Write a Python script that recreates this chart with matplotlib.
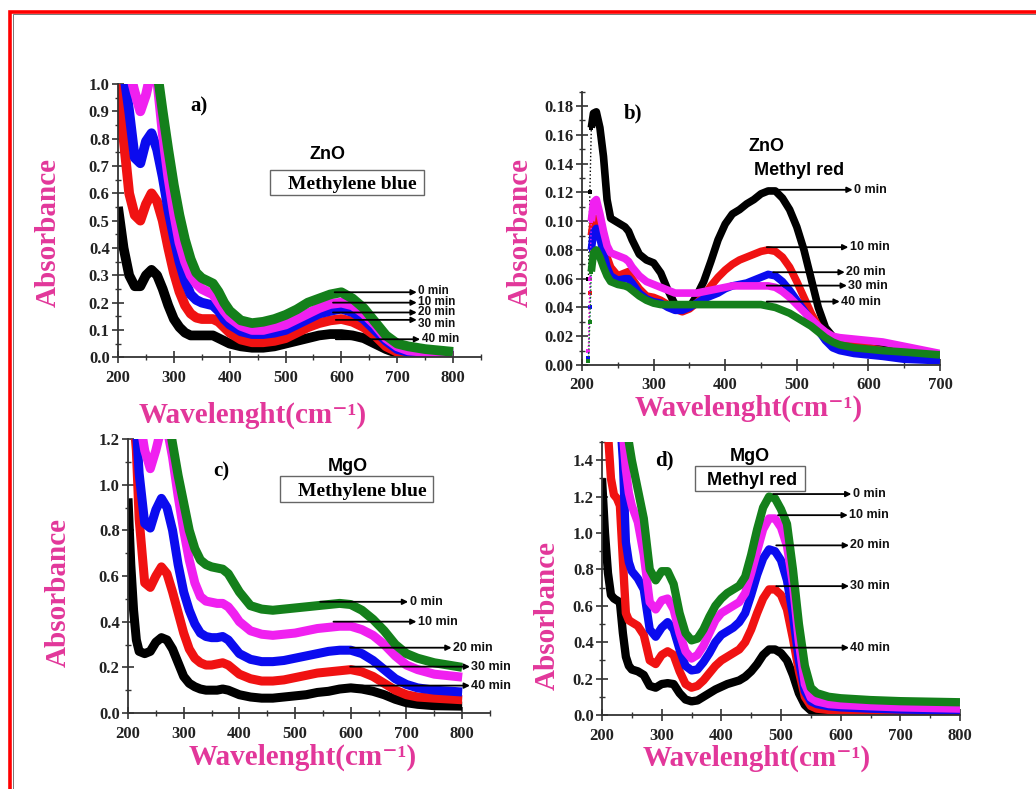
import numpy as np
import matplotlib
matplotlib.use('Agg')
import matplotlib.pyplot as plt
from matplotlib.patches import Rectangle
from matplotlib.ticker import MultipleLocator, FormatStrFormatter

plt.rcParams['font.family'] = ['Liberation Serif', 'DejaVu Serif']
plt.rcParams['font.weight'] = 'bold'

W, H = 1036, 789
PINK = '#e2379a'
SANS = ['Liberation Sans', 'DejaVu Sans']
C_BLACK, C_RED, C_BLUE, C_MAG, C_GREEN = '#000000', '#f01212', '#0b0bef', '#f020f0', '#14801b'

# ────────────────────────────────────────────────────────────────────────────────
# a) ZnO / methylene blue
a_wl = [200, 210, 220, 230, 240, 250, 260, 270, 280, 290, 300, 310, 320, 330, 340, 350, 360, 370, 380, 390, 400,
        420, 440, 460, 480, 500, 520, 540, 560, 580, 600, 620, 640, 660, 680, 700, 720, 750, 800]
a_40 = [0.55, 0.40, 0.30, 0.26, 0.26, 0.30, 0.32, 0.30, 0.25, 0.19, 0.14, 0.11, 0.09, 0.08, 0.08, 0.08, 0.08, 0.08, 0.07, 0.06, 0.05,
        0.04, 0.035, 0.035, 0.04, 0.05, 0.06, 0.07, 0.08, 0.085, 0.085, 0.08, 0.07, 0.05, 0.03, 0.015, 0.01, 0.005, 0.005]
a_30 = [1.0, 0.80, 0.60, 0.52, 0.50, 0.56, 0.60, 0.57, 0.50, 0.40, 0.31, 0.24, 0.19, 0.16, 0.145, 0.14, 0.14, 0.14, 0.13, 0.11, 0.09,
        0.065, 0.055, 0.055, 0.06, 0.07, 0.09, 0.11, 0.125, 0.135, 0.14, 0.13, 0.11, 0.08, 0.04, 0.02, 0.01, 0.008, 0.005]
a_20 = [1.3, 1.05, 0.90, 0.73, 0.71, 0.79, 0.82, 0.76, 0.66, 0.54, 0.44, 0.35, 0.28, 0.23, 0.21, 0.20, 0.195, 0.19, 0.17, 0.14, 0.12,
        0.095, 0.085, 0.085, 0.09, 0.10, 0.12, 0.14, 0.16, 0.17, 0.178, 0.165, 0.14, 0.10, 0.06, 0.03, 0.02, 0.015, 0.01]
a_10 = [1.4, 1.2, 1.05, 0.97, 0.90, 0.96, 1.05, 1.02, 0.82, 0.66, 0.53, 0.42, 0.35, 0.30, 0.27, 0.25, 0.24, 0.23, 0.20, 0.17, 0.145,
        0.115, 0.10, 0.10, 0.11, 0.12, 0.14, 0.16, 0.18, 0.195, 0.20, 0.19, 0.16, 0.12, 0.07, 0.04, 0.025, 0.02, 0.015]
a_0 = [1.6, 1.5, 1.4, 1.3, 1.25, 1.2, 1.15, 1.05, 0.90, 0.76, 0.63, 0.52, 0.43, 0.36, 0.31, 0.29, 0.28, 0.27, 0.24, 0.20, 0.17,
       0.135, 0.125, 0.13, 0.14, 0.155, 0.175, 0.20, 0.215, 0.23, 0.238, 0.215, 0.18, 0.13, 0.08, 0.05, 0.04, 0.03, 0.02]

# b) ZnO / methyl red (first points: steep onset)
b_wl = [209, 211, 213, 216, 220, 225, 230, 235, 240, 250, 260, 265, 270,
        280, 290, 300, 310, 320, 330, 340, 350, 360, 370, 380, 390, 400,
        410, 420, 430, 440, 450, 460, 470, 480, 490, 500, 510, 520, 530, 540, 550, 560, 580, 600, 620, 650, 700]
b_0 = [0.06, 0.12, 0.165, 0.175, 0.176, 0.165, 0.145, 0.115, 0.102, 0.099, 0.096, 0.093, 0.087,
       0.077, 0.073, 0.071, 0.064, 0.052, 0.042, 0.038, 0.040, 0.048, 0.058, 0.072, 0.087, 0.098,
       0.105, 0.108, 0.112, 0.115, 0.119, 0.121, 0.121, 0.116, 0.108, 0.096, 0.080, 0.060, 0.040, 0.026, 0.020, 0.017,
       0.014, 0.012, 0.011, 0.009, 0.007]
b_10 = [0.01, 0.05, 0.09, 0.10, 0.102, 0.095, 0.085, 0.075, 0.068, 0.062, 0.064, 0.065, 0.060,
        0.053, 0.048, 0.047, 0.045, 0.042, 0.039, 0.037, 0.039, 0.043, 0.048, 0.055, 0.061, 0.066,
        0.070, 0.073, 0.075, 0.077, 0.079, 0.080, 0.079, 0.075, 0.068, 0.058, 0.047, 0.036, 0.027, 0.022, 0.019, 0.017,
        0.014, 0.012, 0.010, 0.008, 0.006]
b_20 = [0.005, 0.04, 0.08, 0.092, 0.095, 0.088, 0.078, 0.068, 0.062, 0.059, 0.060, 0.060, 0.057,
        0.050, 0.046, 0.044, 0.043, 0.040, 0.038, 0.038, 0.040, 0.043, 0.046, 0.048, 0.050, 0.053,
        0.055, 0.056, 0.057, 0.059, 0.061, 0.063, 0.062, 0.058, 0.052, 0.045, 0.038, 0.031, 0.024, 0.017, 0.012, 0.010,
        0.008, 0.007, 0.006, 0.004, 0.003]
b_30 = [0.01, 0.06, 0.10, 0.113, 0.115, 0.105, 0.093, 0.083, 0.078, 0.076, 0.074, 0.072, 0.068,
        0.062, 0.058, 0.056, 0.054, 0.052, 0.050, 0.050, 0.050, 0.050, 0.051, 0.052, 0.053, 0.054,
        0.055, 0.055, 0.055, 0.055, 0.055, 0.055, 0.054, 0.051, 0.047, 0.042, 0.037, 0.032, 0.027, 0.023, 0.020, 0.019,
        0.018, 0.017, 0.016, 0.013, 0.008]
b_40 = [0.003, 0.03, 0.065, 0.078, 0.080, 0.075, 0.068, 0.062, 0.058, 0.056, 0.055, 0.054, 0.052,
        0.048, 0.045, 0.043, 0.042, 0.042, 0.042, 0.042, 0.042, 0.042, 0.042, 0.042, 0.042, 0.042,
        0.042, 0.042, 0.042, 0.042, 0.042, 0.041, 0.040, 0.038, 0.036, 0.033, 0.030, 0.027, 0.023, 0.019, 0.016, 0.014,
        0.012, 0.011, 0.010, 0.009, 0.007]

# c) MgO / methylene blue
c_wl = [200, 205, 210, 215, 220,
        230, 240, 250, 260, 270, 280, 290, 300, 310, 320, 330, 340, 350, 360, 370, 380, 390, 400,
        420, 440, 460, 480, 500, 520, 540, 560, 580, 600, 620, 640, 660, 680, 700, 720, 750, 800]
c_40 = [0.94, 0.65, 0.45, 0.32, 0.27,
        0.26, 0.27, 0.31, 0.33, 0.32, 0.28, 0.22, 0.16, 0.13, 0.115, 0.105, 0.10, 0.10, 0.10, 0.105, 0.10, 0.09, 0.08,
        0.07, 0.065, 0.065, 0.07, 0.075, 0.08, 0.09, 0.095, 0.105, 0.11, 0.105, 0.095, 0.08, 0.06, 0.045, 0.038, 0.032, 0.03]
c_30 = [1.6, 1.45, 1.3, 1.15, 0.85,
        0.57, 0.55, 0.60, 0.64, 0.61, 0.53, 0.44, 0.35, 0.28, 0.24, 0.22, 0.21, 0.21, 0.215, 0.22, 0.21, 0.19, 0.17,
        0.15, 0.14, 0.14, 0.145, 0.155, 0.165, 0.175, 0.18, 0.185, 0.19, 0.18, 0.16, 0.13, 0.10, 0.08, 0.07, 0.065, 0.058]
c_20 = [1.7, 1.55, 1.4, 1.25, 1.05,
        0.83, 0.81, 0.89, 0.94, 0.90, 0.80, 0.65, 0.53, 0.45, 0.39, 0.35, 0.335, 0.33, 0.33, 0.335, 0.32, 0.29, 0.26,
        0.235, 0.225, 0.225, 0.23, 0.24, 0.25, 0.26, 0.27, 0.275, 0.275, 0.26, 0.23, 0.19, 0.15, 0.125, 0.11, 0.10, 0.092]
c_10 = [1.8, 1.7, 1.6, 1.45, 1.30,
        1.15, 1.07, 1.15, 1.25, 1.25, 1.12, 0.95, 0.80, 0.67, 0.57, 0.51, 0.49, 0.485, 0.48, 0.48, 0.465, 0.435, 0.40,
        0.36, 0.345, 0.34, 0.345, 0.35, 0.36, 0.37, 0.375, 0.38, 0.38, 0.365, 0.34, 0.30, 0.25, 0.21, 0.19, 0.17, 0.157]
c_0 = [2.0, 1.9, 1.8, 1.7, 1.6,
       1.55, 1.5, 1.48, 1.45, 1.32, 1.18, 1.04, 0.92, 0.80, 0.72, 0.67, 0.65, 0.64, 0.635, 0.63, 0.61, 0.57, 0.53,
       0.47, 0.455, 0.45, 0.455, 0.46, 0.465, 0.47, 0.475, 0.48, 0.475, 0.45, 0.41, 0.36, 0.30, 0.26, 0.24, 0.22, 0.20]

# d) MgO / methyl red
d_wl = [200, 205, 210, 215, 220, 225, 230, 235, 240, 245, 250,
        260, 270, 280, 290, 300, 310, 320, 330, 340, 350, 360, 370, 380, 390, 400, 410, 420, 430, 440, 450,
        460, 470, 480, 490, 500, 510, 520, 530, 540, 550, 560, 580, 600, 650, 700, 800]
d_40 = [1.30, 1.00, 0.78, 0.66, 0.64, 0.63, 0.62, 0.45, 0.32, 0.27, 0.25,
        0.24, 0.22, 0.16, 0.15, 0.17, 0.175, 0.17, 0.12, 0.085, 0.075, 0.08, 0.10, 0.12, 0.14, 0.155, 0.17, 0.18, 0.19, 0.21, 0.24,
        0.28, 0.33, 0.36, 0.36, 0.34, 0.30, 0.22, 0.12, 0.055, 0.025, 0.012, 0.008, 0.006, 0.005, 0.005, 0.005]
d_30 = [2.0, 1.8, 1.55, 1.30, 1.21, 1.19, 1.15, 0.85, 0.56, 0.52, 0.51,
        0.49, 0.44, 0.30, 0.28, 0.33, 0.35, 0.33, 0.24, 0.17, 0.15, 0.16, 0.19, 0.23, 0.27, 0.30, 0.32, 0.34, 0.36, 0.40, 0.47,
        0.56, 0.64, 0.69, 0.69, 0.66, 0.58, 0.42, 0.24, 0.10, 0.05, 0.035, 0.028, 0.024, 0.02, 0.018, 0.015]
d_20 = [2.5, 2.4, 2.3, 2.2, 2.0, 1.85, 1.65, 1.4, 0.95, 0.84, 0.79,
        0.75, 0.69, 0.47, 0.43, 0.48, 0.51, 0.47, 0.36, 0.27, 0.245, 0.25, 0.29, 0.34, 0.40, 0.44, 0.46, 0.48, 0.51, 0.56, 0.66,
        0.77, 0.86, 0.91, 0.90, 0.85, 0.74, 0.55, 0.30, 0.13, 0.075, 0.06, 0.048, 0.042, 0.035, 0.03, 0.025]
d_10 = [2.6, 2.5, 2.4, 2.3, 2.1, 1.9, 1.7, 1.55, 1.35, 1.22, 1.15,
        1.06, 0.88, 0.62, 0.58, 0.63, 0.64, 0.58, 0.45, 0.35, 0.31, 0.33, 0.38, 0.45, 0.52, 0.56, 0.58, 0.60, 0.62, 0.67, 0.78,
        0.90, 1.02, 1.08, 1.08, 1.03, 0.93, 0.72, 0.40, 0.17, 0.095, 0.075, 0.06, 0.055, 0.048, 0.042, 0.035]
d_0 = [3.0, 2.9, 2.8, 2.6, 2.4, 2.2, 2.0, 1.8, 1.6, 1.5, 1.40,
       1.24, 1.08, 0.80, 0.74, 0.79, 0.79, 0.72, 0.56, 0.45, 0.41, 0.42, 0.47, 0.54, 0.60, 0.64, 0.67, 0.69, 0.71, 0.76, 0.88,
       1.02, 1.14, 1.20, 1.19, 1.13, 1.05, 0.80, 0.50, 0.27, 0.15, 0.12, 0.10, 0.092, 0.082, 0.076, 0.07]

time_labels = ['0 min', '10 min', '20 min', '30 min', '40 min']

# ────────────────────────────────────────────────────────────────────────────────

fig = plt.figure(figsize=(W / 100, H / 100), dpi=100)
fig.patch.set_facecolor('white')


def make_axes(l, t, r, b):
    return fig.add_axes([l / W, 1 - b / H, (r - l) / W, (b - t) / H])


def style(ax, xlim, ylim, ymaj, yfmt):
    ax.set_xlim(*xlim)
    ax.set_ylim(*ylim)
    ax.xaxis.set_major_locator(MultipleLocator(100))
    ax.xaxis.set_minor_locator(MultipleLocator(50))
    ax.yaxis.set_major_locator(MultipleLocator(ymaj))
    ax.yaxis.set_minor_locator(MultipleLocator(ymaj / 2))
    ax.yaxis.set_major_formatter(FormatStrFormatter(yfmt))
    for s in ['top', 'right']:
        ax.spines[s].set_visible(False)
    for s in ['left', 'bottom']:
        ax.spines[s].set_linewidth(1.3)
        ax.spines[s].set_color('#333333')
    ax.tick_params(which='major', direction='inout', length=8, width=1.2, labelsize=12,
                   colors='#333333', labelcolor='#222222')
    ax.tick_params(which='minor', direction='inout', length=5, width=1.0, colors='#333333')
    ax.tick_params(axis='y', pad=2)
    ax.tick_params(axis='x', pad=5)
    ax.patch.set_alpha(0)


def labels(ax, ypos, xpos):
    ax.set_ylabel('Absorbance', fontsize=21, color=PINK, fontweight='bold')
    ax.yaxis.set_label_coords(*ypos)
    ax.yaxis.label.set(va='center', ha='center', rotation_mode='default')
    ax.set_xlabel('Wavelenght(cm\u207b\u00b9)', fontsize=21, color=PINK, fontweight='bold')
    ax.xaxis.set_label_coords(*xpos)
    ax.xaxis.label.set(va='center', ha='center')


def arrows(ax, specs, size=9):
    for (y, x0, x1, ty), lab in zip(specs, time_labels):
        ax.annotate('', xy=(x1, y), xytext=(x0, y),
                    arrowprops=dict(arrowstyle='-|>', lw=1.3, color='black',
                                    mutation_scale=8, shrinkA=0, shrinkB=0), zorder=6)
        ax.annotate(lab, xy=(x1, ty), xytext=(1, 0), textcoords='offset points',
                    fontsize=size, family=SANS, fontweight='bold', va='center', ha='left',
                    color='#111111', annotation_clip=False, zorder=6)


# ---- a)
ax = make_axes(118, 84, 481, 357.3)
style(ax, (200, 850), (0, 1.0), 0.1, '%.1f')
for y, c in [(a_40, C_BLACK), (a_30, C_RED), (a_20, C_BLUE), (a_10, C_MAG), (a_0, C_GREEN)]:
    ax.plot(a_wl, y, color=c, lw=7, solid_capstyle='butt')
arrows(ax, [(0.238, 588, 735, 0.242), (0.200, 585, 735, 0.203), (0.164, 585, 735, 0.164),
            (0.137, 590, 735, 0.122), (0.066, 590, 741, 0.066)], size=8.5)
ax.text(345, 0.919, 'a)', fontsize=15, fontweight='bold', ha='center', va='center')
ax.text(575, 0.742, 'ZnO', fontsize=13, family=SANS, fontweight='bold', ha='center', va='center')
ax.add_patch(Rectangle((472, 0.595), 276, 0.092, fill=False, lw=1.0, ec='#666666', zorder=5))
ax.text(620, 0.632, 'Methylene blue', fontsize=14, fontweight='bold', ha='center', va='center')
labels(ax, (-0.193, 0.458), (0.372, -0.212))

# ---- b)
ax = make_axes(582, 91.7, 940, 365)
style(ax, (200, 700), (0, 0.19), 0.02, '%.2f')
for y, c in [(b_0, C_BLACK), (b_10, C_RED), (b_20, C_BLUE), (b_30, C_MAG), (b_40, C_GREEN)]:
    ax.plot(b_wl[:4], y[:4], color=c, lw=1.0, ls=':', marker='s', ms=3, mew=0)
    ax.plot(b_wl[2:], y[2:], color=c, lw=5.5, solid_capstyle='butt')
arrows(ax, [(0.1218, 467, 578, 0.1218), (0.0819, 458, 572, 0.0819), (0.0645, 467, 567, 0.0645),
            (0.0552, 458, 570, 0.0552), (0.0441, 458, 560, 0.0441)])
ax.text(271, 0.175, 'b)', fontsize=15, fontweight='bold', ha='center', va='center')
ax.text(458, 0.152, 'ZnO', fontsize=13, family=SANS, fontweight='bold', ha='center', va='center')
ax.text(503, 0.135, 'Methyl red', fontsize=13, family=SANS, fontweight='bold', ha='center', va='center')
labels(ax, (-0.173, 0.484), (0.466, -0.157))

# ---- c)
ax = make_axes(128, 439, 490, 713)
style(ax, (200, 850), (0, 1.2), 0.2, '%.1f')
for y, c in [(c_40, C_BLACK), (c_30, C_RED), (c_20, C_BLUE), (c_10, C_MAG), (c_0, C_GREEN)]:
    ax.plot(c_wl, y, color=c, lw=6.5, solid_capstyle='butt')
arrows(ax, [(0.487, 545, 703, 0.487), (0.400, 569, 718, 0.400), (0.286, 599, 781, 0.286),
            (0.203, 599, 814, 0.203), (0.120, 604, 814, 0.120)])
ax.text(368, 1.057, 'c)', fontsize=15, fontweight='bold', ha='center', va='center')
ax.text(595, 1.079, 'MgO', fontsize=13, family=SANS, fontweight='bold', ha='center', va='center')
ax.add_patch(Rectangle((473, 0.926), 275, 0.112, fill=False, lw=1.0, ec='#666666', zorder=5))
ax.text(620, 0.972, 'Methylene blue', fontsize=14, fontweight='bold', ha='center', va='center')
labels(ax, (-0.193, 0.438), (0.483, -0.16))

# ---- d)
ax = make_axes(602, 442, 960, 715)
style(ax, (200, 800), (0, 1.5), 0.2, '%.1f')
for y, c in [(d_40, C_BLACK), (d_30, C_RED), (d_20, C_BLUE), (d_10, C_MAG), (d_0, C_GREEN)]:
    ax.plot(d_wl, y, color=c, lw=6, solid_capstyle='butt')
arrows(ax, [(1.214, 487, 618, 1.214), (1.098, 495, 612, 1.098), (0.932, 492, 614, 0.932),
            (0.708, 492, 614, 0.708), (0.370, 492, 614, 0.370)])
ax.text(304, 1.40, 'd)', fontsize=15, fontweight='bold', ha='center', va='center')
ax.text(448, 1.418, 'MgO', fontsize=13, family=SANS, fontweight='bold', ha='center', va='center')
ax.add_patch(Rectangle((356, 1.230), 184, 0.137, fill=False, lw=1.0, ec='#666666', zorder=5))
ax.text(451, 1.287, 'Methyl red', fontsize=13, family=SANS, fontweight='bold', ha='center', va='center')
labels(ax, (-0.154, 0.366), (0.433, -0.16))

# red frame round the figure (open to the right and bottom)
fig.patches.append(Rectangle((10.3 / W, -0.1), 1.2, 1 - 11.7 / H + 0.1, transform=fig.transFigure,
                             fill=False, ec='#ff0000', lw=2.6))
fig.patches.append(Rectangle((12.8 / W, -0.1), 1.2, 1 - 13.8 / H + 0.1, transform=fig.transFigure,
                             fill=False, ec='#777777', lw=0.7))

fig.savefig('out.png', dpi=100)
